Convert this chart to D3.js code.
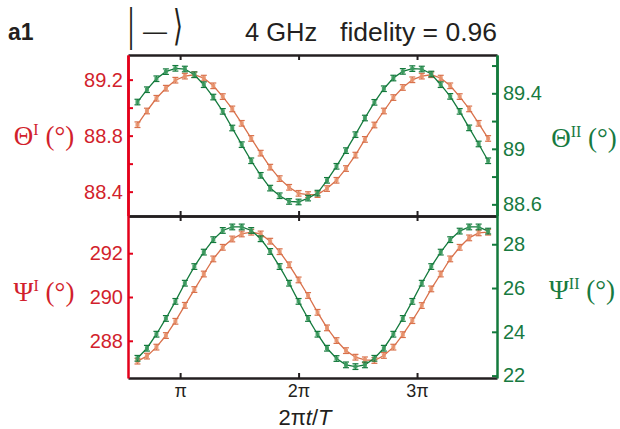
<!DOCTYPE html>
<html><head><meta charset="utf-8">
<script src="https://cdn.jsdelivr.net/npm/d3@7"></script>
<style>body{margin:0;background:#fff}svg{display:block}</style>
</head><body><svg id="c" width="620" height="429"></svg>
<script>
// phase 2πt/T, in units of π
const phase = [0.64,0.72,0.80,0.88,0.96,1.04,1.12,1.20,1.28,1.36,1.44,1.52,1.60,1.68,1.76,1.84,1.92,2.00,2.08,2.16,2.24,2.32,2.40,2.48,2.56,2.64,2.72,2.80,2.88,2.96,3.04,3.12,3.20,3.28,3.36,3.44,3.52,3.60];
const thetaI = [88.878,88.976,89.067,89.139,89.196,89.225,89.235,89.211,89.156,89.079,88.991,88.888,88.780,88.675,88.575,88.493,88.431,88.388,88.379,88.379,88.422,88.481,88.565,88.661,88.773,88.876,88.976,89.072,89.144,89.199,89.225,89.235,89.211,89.156,89.079,88.991,88.888,88.780];
const thetaII = [89.337,89.426,89.505,89.556,89.580,89.575,89.534,89.462,89.373,89.270,89.150,89.030,88.914,88.809,88.717,88.662,88.621,88.617,88.645,88.681,88.773,88.874,88.987,89.102,89.222,89.335,89.433,89.510,89.558,89.578,89.575,89.539,89.462,89.378,89.270,89.151,89.035,88.914];
const psiI = [287.07,287.30,287.71,288.24,288.89,289.62,290.34,291.05,291.74,292.27,292.65,292.88,292.96,292.88,292.55,292.07,291.47,290.78,290.07,289.30,288.59,288.01,287.55,287.25,287.13,287.10,287.33,287.71,288.28,288.92,289.61,290.37,291.05,291.74,292.27,292.70,292.93,292.96];
const psiII = [22.79,23.25,23.89,24.61,25.39,26.22,26.98,27.64,28.21,28.63,28.79,28.79,28.63,28.25,27.67,26.98,26.22,25.39,24.61,23.89,23.25,22.78,22.49,22.41,22.49,22.79,23.25,23.89,24.61,25.39,26.22,26.98,27.64,28.21,28.60,28.79,28.79,28.60];
const thetaIErr = 0.02, thetaIIErr = 0.02, psiIErr = 0.13, psiIIErr = 0.13;

const xTicks = [1,2,3];
const xTickLabels = ["π","2π","3π"];
const thetaITicks = [88.4,88.8,89.2], thetaIMinor = [88.6,89.0];
const thetaIITicks = [88.6,89.0,89.4], thetaIIMinor = [88.8,89.2,89.6];
const psiITicks = [288,290,292];
const psiIITicks = [22,24,26,28];

const RED = "#e3001b", REDT = "#d21f2d";
const GRN = "#137a3c", GRNT = "#177a3f";
const ORL = "#d9714b", ORM = "#e8946e";
const GRL = "#147a3d", GRM = "#3c9a5e";
const FONT = "Arial, 'Liberation Sans', sans-serif";
const SERIF = "'Times New Roman', 'Liberation Serif', serif";

const L = 128, R = 497, T = 55, M = 216, B = 378;
const svg = d3.select("#c");

const x = d3.scaleLinear().domain([0.56, 3.675]).range([L, R]);
const yTI = d3.scaleLinear().domain([88.226, 89.376]).range([M, T]);
const yTII = d3.scaleLinear().domain([88.516, 89.676]).range([M, T]);
const yPI = d3.scaleLinear().domain([286.3, 293.7]).range([B, M]);
const yPII = d3.scaleLinear().domain([21.89, 29.29]).range([B, M]);

function series(vals, y, err, lineC, markC) {
  const g = svg.append("g");
  g.append("path").datum(vals)
    .attr("d", d3.line().x((d,i)=>x(phase[i])).y(d=>y(d)))
    .attr("fill","none").attr("stroke",lineC).attr("stroke-width",1.3);
  const eb = g.selectAll(".eb").data(vals).enter().append("g");
  eb.append("line").attr("x1",(d,i)=>x(phase[i])).attr("x2",(d,i)=>x(phase[i]))
    .attr("y1",d=>y(d-err)).attr("y2",d=>y(d+err)).attr("stroke",lineC).attr("stroke-width",1.2);
  [-1,1].forEach(s=>{
    eb.append("line").attr("x1",(d,i)=>x(phase[i])-3).attr("x2",(d,i)=>x(phase[i])+3)
      .attr("y1",d=>y(d+s*err)).attr("y2",d=>y(d+s*err)).attr("stroke",lineC).attr("stroke-width",1.2);
  });
  g.selectAll(".mk").data(vals).enter().append("rect")
    .attr("x",(d,i)=>x(phase[i])-2).attr("y",d=>y(d)-2)
    .attr("width",4).attr("height",4).attr("fill",markC).attr("opacity",0.9);
}
series(thetaI, yTI, thetaIErr, ORL, ORM);
series(thetaII, yTII, thetaIIErr, GRL, GRM);
series(psiI, yPI, psiIErr, ORL, ORM);
series(psiII, yPII, psiIIErr, GRL, GRM);

function styleAxis(g, color, w, textColor, size) {
  g.select(".domain").attr("stroke", color).attr("stroke-width", w);
  g.selectAll(".tick line").attr("stroke", color).attr("stroke-width", 2);
  g.selectAll(".tick text").attr("fill", textColor).style("font-family", FONT).style("font-size", size+"px");
}
// x axes (black frame lines)
const xfmt = d=>xTickLabels[xTicks.indexOf(d)];
styleAxis(svg.append("g").attr("transform",`translate(0,${T})`)
  .call(d3.axisTop(x).tickValues(xTicks).tickSizeInner(-5).tickSizeOuter(0).tickFormat("")), "#231f20", 2.5, "#231f20", 17);
styleAxis(svg.append("g").attr("transform",`translate(0,${M})`)
  .call(d3.axisBottom(x).tickValues(xTicks).tickSizeInner(-5).tickSizeOuter(0).tickFormat("")), "#231f20", 2.5, "#231f20", 17);
styleAxis(svg.append("g").attr("transform",`translate(0,${M})`)
  .call(d3.axisTop(x).tickValues(xTicks).tickSizeInner(-5).tickSizeOuter(0).tickFormat("")), "#231f20", 2.5, "#231f20", 17);
styleAxis(svg.append("g").attr("transform",`translate(0,${B})`)
  .call(d3.axisBottom(x).tickValues(xTicks).tickSizeInner(-5).tickSizeOuter(0).tickPadding(6).tickFormat(xfmt)), "#231f20", 2.5, "#231f20", 18);

// left axes
function yAxisLeft(y, ticks, minor, fmt) {
  if (minor) styleAxis(svg.append("g").attr("transform",`translate(${L},0)`)
    .call(d3.axisLeft(y).tickValues(minor).tickSizeInner(-5).tickSizeOuter(0).tickFormat("")), RED, 2.5, REDT, 20);
  styleAxis(svg.append("g").attr("transform",`translate(${L},0)`)
    .call(d3.axisLeft(y).tickValues(ticks).tickSizeInner(-5).tickSizeOuter(0).tickPadding(5).tickFormat(fmt)), RED, 2.5, REDT, 20);
}
function yAxisRight(y, ticks, minor, fmt) {
  if (minor) styleAxis(svg.append("g").attr("transform",`translate(${R},0)`)
    .call(d3.axisRight(y).tickValues(minor).tickSizeInner(-5).tickSizeOuter(0).tickFormat("")), GRN, 2.5, GRNT, 20);
  styleAxis(svg.append("g").attr("transform",`translate(${R},0)`)
    .call(d3.axisRight(y).tickValues(ticks).tickSizeInner(-5).tickSizeOuter(0).tickPadding(6).tickFormat(fmt)), GRN, 2.5, GRNT, 20);
}
yAxisLeft(yTI, thetaITicks, thetaIMinor, d3.format(".1f"));
yAxisLeft(yPI, psiITicks, null, d3.format("d"));
yAxisRight(yTII, thetaIITicks, thetaIIMinor, d=>d3.format(".1f")(d).replace(".0",""));
yAxisRight(yPII, psiIITicks, null, d3.format("d"));

// axis titles
function yTitle(xp, yp, sym, sup, color) {
  const t = svg.append("text").attr("x",xp).attr("y",yp).attr("fill",color)
    .style("font-family",SERIF).style("font-size","27px").attr("text-anchor","middle");
  t.append("tspan").text(sym);
  t.append("tspan").text(sup).attr("dy",-10).style("font-size","16px");
  t.append("tspan").text(" (°)").attr("dy",10);
}
yTitle(44, 145, "Θ", "I", REDT);
yTitle(584, 147, "Θ", "II", GRNT);
yTitle(44, 301, "Ψ", "I", REDT);
yTitle(582, 299, "Ψ", "II", GRNT);

// x title
const xt = svg.append("text").attr("x",305).attr("y",425).attr("text-anchor","middle")
  .attr("fill","#231f20").style("font-family",FONT).style("font-size","22px");
xt.append("tspan").text("2π");
xt.append("tspan").text("t").style("font-style","italic");
xt.append("tspan").text("/");
xt.append("tspan").text("T").style("font-style","italic");

// header
svg.append("text").attr("x",8).attr("y",40).text("a1").attr("fill","#231f20")
  .style("font-family",FONT).style("font-size","23px").style("font-weight","bold");
svg.append("text").attr("x",131).attr("y",40).text("|").attr("fill","#231f20").attr("text-anchor","middle")
  .attr("transform","translate(131,40) scale(0.7,1.4) translate(-131,-40)")
  .style("font-family","'DejaVu Sans', sans-serif").style("font-size","30px");
svg.append("text").attr("x",155).attr("y",39).text("—").attr("fill","#231f20").attr("text-anchor","middle")
  .style("font-family",FONT).style("font-size","24px");
svg.append("text").attr("x",178).attr("y",40).text("⟩").attr("fill","#231f20").attr("text-anchor","middle")
  .attr("transform","translate(178,40) scale(0.85,1.4) translate(-178,-40)")
  .style("font-family","'DejaVu Sans', sans-serif").style("font-size","30px");
svg.append("text").attr("x",245).attr("y",41).text("4 GHz").attr("fill","#231f20")
  .style("font-family",FONT).style("font-size","25.5px");
svg.append("text").attr("x",497).attr("y",41).text("fidelity = 0.96").attr("fill","#231f20").attr("text-anchor","end")
  .style("font-family",FONT).style("font-size","26.5px");
</script></body></html>
